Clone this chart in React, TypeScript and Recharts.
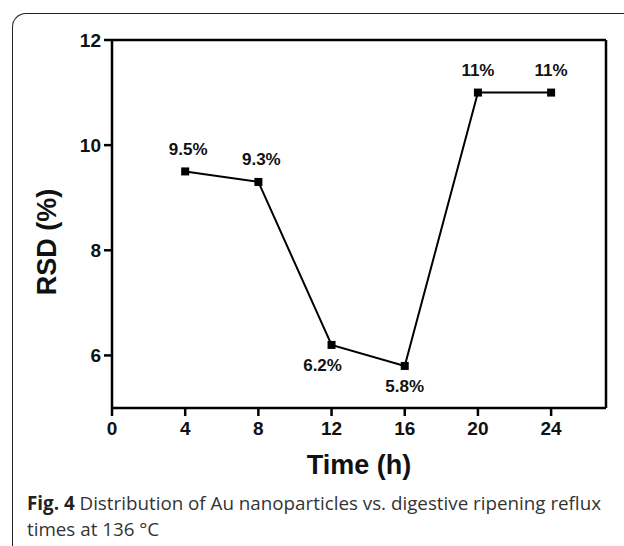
import React from "react";
import { LineChart, Line, XAxis, YAxis, ReferenceLine } from "recharts";

const times = [4, 8, 12, 16, 20, 24];
const rsd = [9.5, 9.3, 6.2, 5.8, 11, 11];
const rsdLabels = ["9.5%", "9.3%", "6.2%", "5.8%", "11%", "11%"];
const xTicks = [0, 4, 8, 12, 16, 20, 24];
const yTicks = [6, 8, 10, 12];

const data = times.map((t, i) => ({ t, v: rsd[i], label: rsdLabels[i] }));

const belowIdx = new Set([2, 3]);
const dxByIdx: Record<number, number> = { 0: 3, 1: 3, 2: -9, 3: 0 };

const FONT = "'Liberation Sans', Arial, sans-serif";

const Square = (props: any) => {
  const { cx, cy } = props;
  if (cx == null || cy == null) return null;
  return <rect x={cx - 4} y={cy - 4} width={8} height={8} fill="#000" />;
};

const PointLabel = (props: any) => {
  const { x, y, index } = props;
  const below = belowIdx.has(index);
  const dx = dxByIdx[index] ?? 0;
  return (
    <text
      x={x + dx}
      y={below ? y + 21 : y - 22}
      textAnchor="middle"
      dominantBaseline="central"
      fontFamily={FONT}
      fontWeight="bold"
      fontSize={17}
      fill="#111"
    >
      {rsdLabels[index]}
    </text>
  );
};

export default function App() {
  return (
    <div style={{ position: "absolute", left: 0, top: 0, width: 624, height: 546, background: "#fff", overflow: "hidden" }}>
      <div
        style={{
          position: "absolute",
          left: 12,
          top: 13,
          width: 640,
          height: 560,
          borderTop: "1.5px solid #222",
          borderLeft: "1.5px solid #222",
          borderTopLeftRadius: 14,
        }}
      />
      <div style={{ position: "absolute", left: 0, top: 0 }}>
        <LineChart
          width={624}
          height={546}
          data={data}
          margin={{ top: 40, right: 18, left: 0, bottom: 58 }}
        >
          <XAxis
            dataKey="t"
            type="number"
            domain={[0, 27]}
            ticks={xTicks}
            stroke="#000"
            strokeWidth={2.5}
            tickSize={8}
            height={80}
            tick={{ fill: "#111", fontFamily: FONT, fontWeight: "bold", fontSize: 19, dy: 4 }}
            label={{
              value: "Time (h)",
              position: "insideTop",
              offset: 47,
              style: { fill: "#111", fontFamily: FONT, fontWeight: "bold", fontSize: 27 },
            }}
          />
          <YAxis
            type="number"
            domain={[5, 12]}
            ticks={yTicks}
            stroke="#000"
            strokeWidth={2.5}
            tickSize={8}
            width={112}
            tick={{ fill: "#111", fontFamily: FONT, fontWeight: "bold", fontSize: 19, dx: -1 }}
            label={{
              value: "RSD (%)",
              angle: -90,
              position: "insideLeft",
              offset: 46,
              dy: 18,
              style: { textAnchor: "middle", fill: "#111", fontFamily: FONT, fontWeight: "bold", fontSize: 27 },
            }}
          />
          <ReferenceLine y={12} stroke="#000" strokeWidth={2.5} />
          <ReferenceLine x={27} stroke="#000" strokeWidth={2.5} />
          <Line
            dataKey="v"
            stroke="#000"
            strokeWidth={2}
            dot={<Square />}
            activeDot={false}
            isAnimationActive={false}
            label={<PointLabel />}
          />
        </LineChart>
      </div>
      <div
        style={{
          position: "absolute",
          left: 27,
          top: 490,
          width: 597,
          whiteSpace: "nowrap",
          fontFamily: "'Open Sans', sans-serif",
          fontSize: 18.8,
          lineHeight: "26px",
          color: "#333",
        }}
      >
        <span style={{ fontWeight: "bold", color: "#222" }}>Fig. 4</span> Distribution of Au nanoparticles vs. digestive ripening reflux
        <br />
        times at 136 °C
      </div>
    </div>
  );
}
